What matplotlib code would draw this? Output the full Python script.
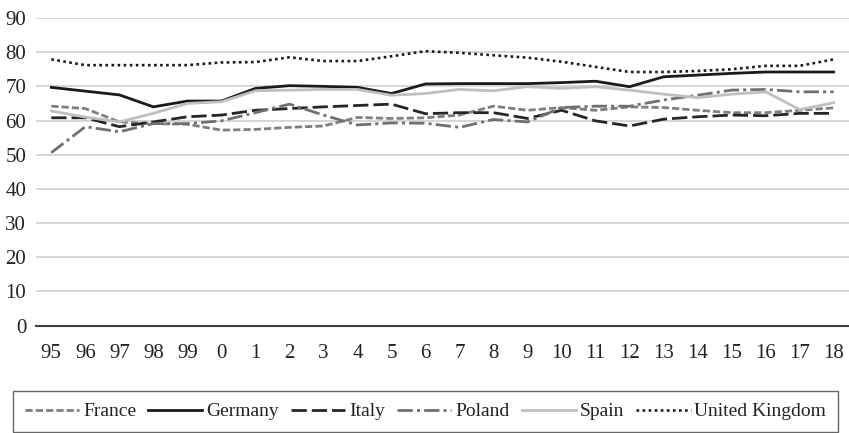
import numpy as np
import matplotlib
matplotlib.use('Agg')
import matplotlib.pyplot as plt

# years 1995-2018, labelled the way the source does it
years = ['95', '96', '97', '98', '99', '0', '1', '2', '3', '4', '5', '6',
         '7', '8', '9', '10', '11', '12', '13', '14', '15', '16', '17', '18']

france = [64.2, 63.5, 59.6, 59.1, 58.9, 57.2, 57.4, 58.0, 58.4, 60.9, 60.6, 60.8,
          61.6, 64.2, 63.0, 63.8, 63.0, 64.0, 63.8, 63.0, 62.3, 62.3, 63.0, 63.7]
germany = [69.7, 68.6, 67.5, 64.0, 65.7, 65.7, 69.4, 70.2, 70.0, 69.7, 67.9, 70.7,
           70.8, 70.8, 70.8, 71.1, 71.5, 69.9, 72.8, 73.3, 73.8, 74.2, 74.2, 74.2]
italy = [60.8, 60.8, 58.2, 59.6, 61.1, 61.6, 63.0, 63.5, 64.0, 64.4, 64.8, 62.0,
         62.3, 62.3, 60.6, 63.0, 59.9, 58.4, 60.4, 61.1, 61.6, 61.4, 62.1, 62.1]
poland = [50.6, 58.2, 56.7, 59.1, 59.1, 59.9, 62.3, 64.8, 61.6, 58.7, 59.3, 59.2,
          58.0, 60.3, 59.6, 63.8, 64.2, 64.2, 66.0, 67.4, 68.9, 69.1, 68.4, 68.4]
spain = [62.8, 61.0, 59.6, 62.1, 65.0, 65.5, 68.7, 68.9, 69.1, 69.1, 67.4, 67.9,
         69.1, 68.7, 69.9, 69.4, 69.9, 68.9, 67.7, 66.7, 67.7, 68.4, 63.2, 65.2]
uk = [77.9, 76.2, 76.2, 76.2, 76.2, 77.0, 77.1, 78.5, 77.4, 77.4, 78.8, 80.3,
      79.8, 79.1, 78.4, 77.2, 75.7, 74.2, 74.2, 74.5, 75.0, 76.0, 76.0, 77.9]

plt.rcParams['font.family'] = ['Liberation Serif', 'DejaVu Serif']

fig = plt.figure(figsize=(8.49, 4.33), dpi=100)
ax = fig.add_axes([36/849, 1 - 325.6/433, 813/849, (325.6 - 18)/433])

x = np.arange(len(years))
lw = 2.0
ax.plot(x, france, color='#7f7f7f', lw=lw, ls=(0, (2.6, 1.1)), label='France')
ax.plot(x, germany, color='#1a1a1a', lw=lw, ls='-', label='Germany')
ax.plot(x, italy, color='#262626', lw=lw, ls=(0, (5.5, 1.8)), label='Italy')
ax.plot(x, poland, color='#707070', lw=lw, ls=(0, (5.5, 1.5, 1.1, 1.5)), label='Poland')
ax.plot(x, spain, color='#bfbfbf', lw=lw, ls='-', label='Spain')
ax.plot(x, uk, color='#1a1a1a', lw=1.9, ls=(0, (1, 1.3)), label='United Kingdom')

ax.set_xlim(-0.45, 23.45)
ax.set_ylim(0, 90)
ax.set_yticks(range(0, 91, 10))
ax.set_xticks(x)
ax.set_xticklabels(years)

ax.grid(axis='y', color='#d0d0d0', lw=1.2)
ax.set_axisbelow(True)
for s in ['top', 'right', 'left']:
    ax.spines[s].set_visible(False)
ax.spines['bottom'].set_color('#404040')
ax.spines['bottom'].set_linewidth(1.5)
ax.tick_params(axis='both', length=0, labelsize=15, colors='#222222')
ax.tick_params(axis='x', pad=13, labelsize=15)
ax.tick_params(axis='y', pad=7)

leg = fig.legend(loc='lower left', bbox_to_anchor=(13/849, 1/433, 825/849, 42/433),
                 mode='expand', ncol=6, frameon=True, fancybox=False,
                 fontsize=14, handlelength=2.8, handletextpad=0.2,
                 borderaxespad=0, borderpad=0.6)
leg.get_frame().set_edgecolor('#404040')
leg.get_frame().set_linewidth(1.0)
for t in leg.get_texts():
    t.set_color('#222222')

fig.savefig('out.png', dpi=100)
